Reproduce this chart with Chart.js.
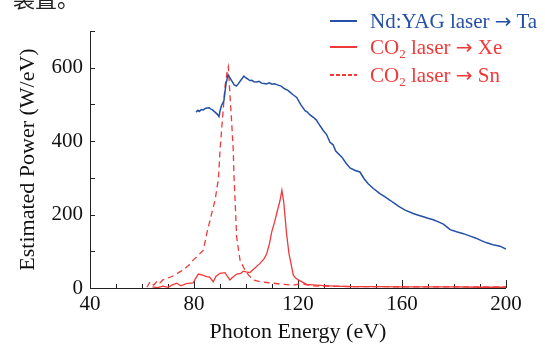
<!DOCTYPE html>
<html>
<head>
<meta charset="utf-8">
<script src="https://cdn.jsdelivr.net/npm/chart.js@4"></script>
<style>
  body { margin: 0; background: #fff; }
  #wrap { position: relative; width: 545px; height: 351px; overflow: hidden; font-family: "Liberation Serif", serif; }
  #topText { position: absolute; left: 13px; top: -19px; font: 22px "Noto Sans CJK SC"; color: #222; }
  .leg { position: absolute; left: 330px; font-size: 21px; line-height: 24px; white-space: nowrap; }
  .leg .ln { position: absolute; left: 0; top: 11px; width: 27px; height: 2px; }
  .leg span.t { position: absolute; left: 40px; top: 0; }
  .leg .ar { font-family: "DejaVu Sans"; font-size: 20px; }
  .leg sub { font-size: 13px; vertical-align: -4px; line-height: 0; }
</style>
</head>
<body>
<div id="wrap">
  <canvas id="myChart" width="545" height="351"></canvas>
  <div id="topText">装置。</div>
  <div class="leg" style="top:9px;color:#2450a6"><div class="ln" style="background:#2450a6"></div><span class="t">Nd:YAG laser <span class="ar">→</span> Ta</span></div>
  <div class="leg" style="top:35px;color:#f03a3a"><div class="ln" style="background:#f03a3a"></div><span class="t">CO<sub>2</sub> laser <span class="ar">→</span> Xe</span></div>
  <div class="leg" style="top:63px;color:#f03a3a"><div class="ln" style="background:repeating-linear-gradient(90deg,#f03a3a 0 4px,transparent 4px 6px)"></div><span class="t">CO<sub>2</sub> laser <span class="ar">→</span> Sn</span></div>
</div>
<script>
"use strict";
// Nd:YAG laser -> Ta
const taEnergy = [80.8, 81.5, 82, 82.8, 83.6, 84.3, 85, 85.9, 86.5, 87, 88.1, 89, 89.6, 90.1, 90.6, 91.5, 92.3, 93.1, 94.1, 95.5, 96.3, 97, 98, 99.2, 100, 100.5, 101.5, 102.3, 103, 104.1, 105, 106, 107, 107.9, 109, 110, 111, 111.8, 113.5, 115, 116, 117, 118, 119.5, 121, 122.7, 123.5, 124.5, 125.9, 127, 128, 129.7, 131, 132.3, 133.5, 134.5, 136.8, 138.5, 140, 142, 143.8, 145.5, 147, 149, 151.5, 153.5, 155.4, 157, 158.6, 161.2, 164.3, 166, 168.2, 170, 172, 174, 175.9, 177, 178.5, 181, 183.6, 186, 188.7, 190.5, 192.6, 195, 197.7, 200];
const taPower = [479, 484, 481, 486, 485, 489, 490, 491, 487, 486, 479, 473, 467, 485, 497, 510, 556, 581, 569, 553, 550, 556, 566, 577, 572, 570, 565, 566, 562, 561, 563, 558, 557, 556, 559, 555, 556, 554, 550, 542, 539, 533, 527, 519, 500, 483, 480, 472, 465, 458, 447, 429, 418, 397, 390, 373, 357, 340, 327, 320, 316, 297, 284, 271, 257, 248, 239, 231, 223, 212, 203, 199, 194, 190, 186, 180, 174, 168, 159, 153, 148, 142, 135, 129, 123, 118, 114, 106];
// CO2 laser -> Xe
const xeEnergy = [64, 66, 68, 70, 71.5, 73.3, 75, 77, 79.7, 80.5, 81.7, 83, 84.9, 86, 87.4, 88.5, 90, 91.9, 93, 93.8, 95, 96.4, 98, 99, 100, 101.5, 103, 105.4, 107, 108, 109, 109.9, 111, 111.8, 113.1, 113.8, 114.5, 115.6, 116.5, 118.2, 119, 120.1, 123.3, 127, 132, 140, 150, 160, 170, 180, 190, 200];
const xePower = [3, 1, 5, 2, 8, 13, 6, 12, 14, 25, 38, 36, 31, 30, 17, 32, 40, 42, 30, 22, 30, 38, 40, 46, 44, 42, 52, 67, 80, 94, 120, 153, 180, 203, 239, 266, 235, 148, 95, 35, 28, 22, 10, 8, 6, 4, 4, 3, 3, 3, 2, 2];
// CO2 laser -> Sn
const snEnergy = [61.9, 63.1, 64.5, 66, 66.9, 68, 69.5, 71, 72.7, 74, 75.9, 78, 79.7, 81.5, 83.6, 84.9, 86.8, 88.1, 89.4, 90, 91, 91.9, 92.8, 93.2, 93.8, 94.5, 95.1, 95.4, 95.8, 96.4, 97.7, 99.6, 101, 102.8, 105.4, 108, 110.5, 114, 118.2, 121, 125, 130, 140, 150, 160, 170, 180, 190, 200];
const snPower = [2, 17, 8, 20, 14, 22, 26, 30, 35, 42, 49, 62, 76, 88, 103, 148, 203, 239, 298, 375, 465, 547, 592, 603, 529, 450, 375, 302, 239, 139, 76, 49, 35, 22, 17, 15, 13, 10, 8, 12, 6, 5, 4, 4, 3, 3, 3, 3, 3];

const xMin = 40, xMax = 200, xStep = 10, xLabelEvery = 40;
const yMin = 0, yMax = 700, yStep = 100, yLabelEvery = 200, yLabelMax = 600;

const blue = '#2450a6';
const red = '#f03a3a';

function toPoints(xs, ys) {
    let pts = [];
    for (let i = 0; i < xs.length; i++) {
        pts.push({x: xs[i], y: ys[i]});
    }
    return pts;
}

// axis lines + inward ticks
const axisPlugin = {
    id: 'axisPlugin',
    beforeDatasetsDraw(chart) {
        const ctx = chart.ctx;
        const xs = chart.scales.x;
        const ys = chart.scales.y;
        const left = xs.getPixelForValue(xMin);
        const right = xs.getPixelForValue(xMax);
        const bottom = ys.getPixelForValue(yMin);
        const top = ys.getPixelForValue(yMax);
        ctx.save();
        ctx.lineWidth = 1;
        ctx.strokeStyle = '#222';
        ctx.beginPath();
        ctx.moveTo(left + 0.5, top);
        ctx.lineTo(left + 0.5, bottom + 0.5);
        ctx.lineTo(right, bottom + 0.5);
        ctx.stroke();
        ctx.beginPath();
        for (let v = yMin; v <= yMax; v += yStep) {
            let p = Math.round(ys.getPixelForValue(v)) + 0.5;
            ctx.moveTo(left, p);
            ctx.lineTo(left + 5, p);
        }
        for (let v = xMin + xStep; v <= xMax; v += xStep) {
            let p = Math.round(xs.getPixelForValue(v)) + 0.5;
            let len = (v % xLabelEvery === 0) ? 8 : 4;
            ctx.moveTo(p, bottom);
            ctx.lineTo(p, bottom - len);
        }
        ctx.stroke();
        ctx.restore();
    }
};

const data = {
    datasets: [{
        label: 'Nd:YAG laser → Ta',
        data: toPoints(taEnergy, taPower),
        borderColor: blue,
        borderWidth: 1.5
    },
    {
        label: 'CO2 laser → Xe',
        data: toPoints(xeEnergy, xePower),
        borderColor: red,
        borderWidth: 1.3
    },
    {
        label: 'CO2 laser → Sn',
        data: toPoints(snEnergy, snPower),
        borderColor: red,
        borderWidth: 1.3,
        borderDash: [6, 4]
    }]
};

const tickFont = {family: "'Liberation Serif', 'Times New Roman', serif", size: 21};
const titleFont = {family: "'Liberation Serif', 'Times New Roman', serif", size: 22};

const config = {
    type: 'line',
    data: data,
    options: {
        responsive: false,
        animation: false,
        devicePixelRatio: 1,
        layout: {padding: {top: 31, right: 39, left: 0, bottom: 0}},
        elements: {point: {radius: 0}, line: {tension: 0}},
        plugins: {legend: {display: false}, tooltip: {enabled: false}},
        scales: {
            x: {
                type: 'linear',
                min: xMin,
                max: xMax,
                grid: {display: false, drawTicks: false},
                border: {display: false},
                afterFit(scale) { scale.height = 63; },
                ticks: {
                    stepSize: xStep,
                    autoSkip: false,
                    maxRotation: 0,
                    padding: 4,
                    color: '#111',
                    font: tickFont,
                    callback: v => (v % xLabelEvery === 0 ? v : '')
                },
                title: {display: true, text: 'Photon Energy (eV)', color: '#111', font: titleFont, padding: {top: 0, bottom: 6}}
            },
            y: {
                min: yMin,
                max: yMax,
                grid: {display: false, drawTicks: false},
                border: {display: false},
                afterFit(scale) { scale.width = 90; },
                ticks: {
                    stepSize: yStep,
                    autoSkip: false,
                    padding: 7,
                    color: '#111',
                    font: tickFont,
                    callback: v => (v % yLabelEvery === 0 && v <= yLabelMax ? v : '')
                },
                title: {display: true, text: 'Estimated Power (W/eV)', color: '#111', font: titleFont, padding: {top: 15, bottom: 0}}
            }
        }
    },
    plugins: [axisPlugin]
};

const myChart = new Chart(document.getElementById('myChart'), config);
</script>
</body>
</html>
